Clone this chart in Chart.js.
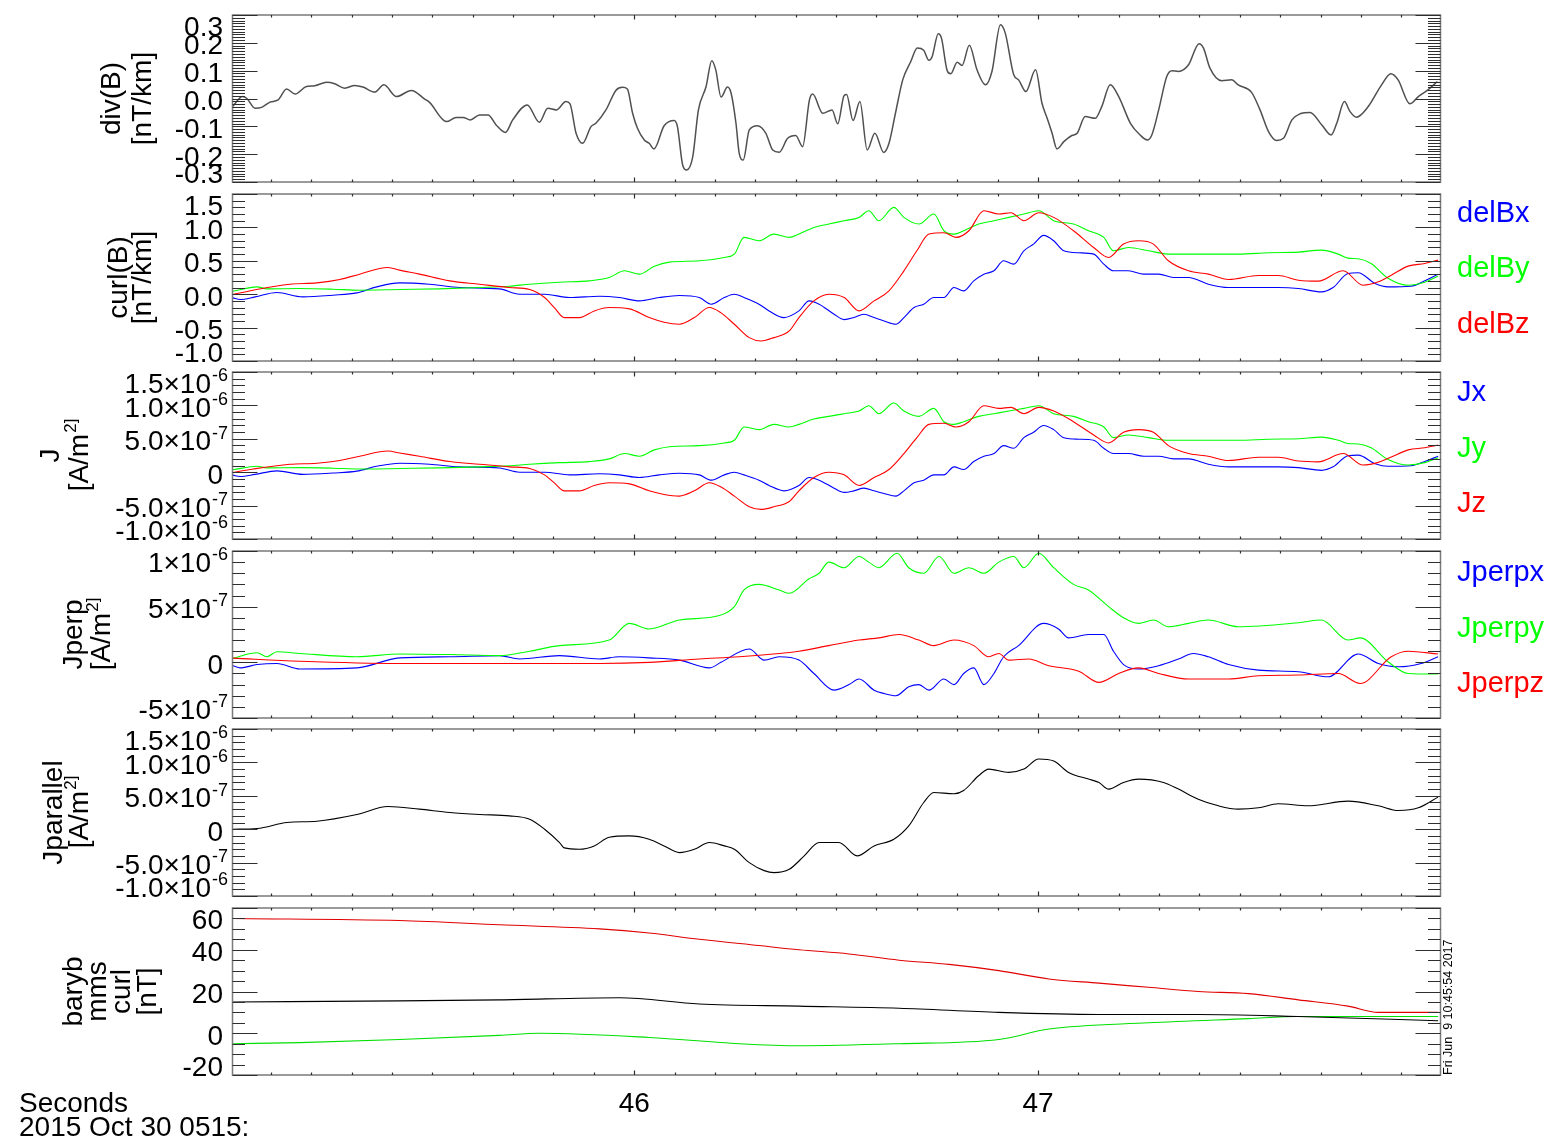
<!DOCTYPE html>
<html>
<head>
<meta charset="utf-8">
<title>MMS curlometer 2015-10-30</title>
<script src="https://cdn.jsdelivr.net/npm/chart.js@4.4.1/dist/chart.umd.min.js"></script>
<style>
  html, body { margin: 0; padding: 0; background: #fff; }
  body { width: 1552px; height: 1144px; position: relative; overflow: hidden; }
  canvas { position: absolute; left: 0; }
</style>
</head>
<body>
<script>
// ---- time axis (seconds after 05:15) ----
const X_MIN = 45.005, X_MAX = 47.997;
const X_MAJOR = [46, 47];
const X_MAJOR_TEXT = ['46', '47'];

// ---- div(B) [nT/km] : [time, value] ----
const divB = [[45.005,-0.029],[45.030,0.007],[45.040,0.001],[45.061,-0.035],[45.077,-0.032],[45.098,-0.013],[45.118,-0.005],[45.139,0.034],[45.160,0.016],[45.188,0.043],[45.209,0.046],[45.238,0.058],[45.258,0.053],[45.283,0.037],[45.308,0.047],[45.328,0.041],[45.357,0.023],[45.380,0.049],[45.411,0.007],[45.448,0.029],[45.481,-0.002],[45.493,-0.014],[45.535,-0.083],[45.559,-0.068],[45.576,-0.068],[45.594,-0.077],[45.617,-0.059],[45.638,-0.059],[45.658,-0.095],[45.681,-0.122],[45.699,-0.077],[45.735,-0.023],[45.765,-0.085],[45.786,-0.035],[45.807,-0.041],[45.831,-0.011],[45.841,-0.019],[45.856,-0.125],[45.872,-0.161],[45.893,-0.101],[45.905,-0.089],[45.930,-0.041],[45.955,0.030],[45.971,0.040],[45.983,0.034],[45.996,-0.053],[46.008,-0.107],[46.025,-0.149],[46.037,-0.161],[46.049,-0.181],[46.074,-0.098],[46.099,-0.079],[46.107,-0.101],[46.120,-0.239],[46.130,-0.257],[46.145,-0.209],[46.159,-0.041],[46.178,0.043],[46.192,0.136],[46.202,0.103],[46.215,0.005],[46.231,0.041],[46.240,0.019],[46.252,-0.089],[46.260,-0.197],[46.270,-0.221],[46.285,-0.113],[46.305,-0.098],[46.326,-0.125],[46.343,-0.185],[46.359,-0.193],[46.380,-0.143],[46.400,-0.133],[46.417,-0.173],[46.434,-0.005],[46.442,0.016],[46.467,-0.053],[46.490,-0.041],[46.504,-0.091],[46.520,0.011],[46.526,0.014],[46.542,-0.079],[46.559,-0.011],[46.577,-0.185],[46.596,-0.125],[46.618,-0.194],[46.631,-0.161],[46.647,-0.053],[46.665,0.067],[46.685,0.133],[46.701,0.181],[46.717,0.173],[46.730,0.137],[46.738,0.151],[46.753,0.233],[46.761,0.217],[46.775,0.101],[46.784,0.089],[46.800,0.130],[46.812,0.119],[46.830,0.191],[46.849,0.103],[46.870,0.049],[46.886,0.097],[46.907,0.265],[46.919,0.235],[46.940,0.085],[46.952,0.067],[46.970,0.025],[46.994,0.103],[47.010,-0.017],[47.022,-0.068],[47.035,-0.125],[47.047,-0.181],[47.064,-0.155],[47.084,-0.133],[47.097,-0.125],[47.117,-0.065],[47.142,-0.071],[47.158,-0.029],[47.179,0.049],[47.200,0.007],[47.229,-0.089],[47.253,-0.131],[47.271,-0.149],[47.282,-0.131],[47.299,-0.041],[47.319,0.079],[47.332,0.100],[47.348,0.097],[47.373,0.121],[47.399,0.197],[47.410,0.181],[47.426,0.109],[47.455,0.064],[47.480,0.067],[47.496,0.049],[47.529,0.022],[47.550,-0.041],[47.571,-0.119],[47.591,-0.151],[47.608,-0.143],[47.629,-0.077],[47.649,-0.055],[47.674,-0.050],[47.703,-0.095],[47.726,-0.131],[47.740,-0.089],[47.759,-0.011],[47.773,-0.047],[47.789,-0.067],[47.818,-0.029],[47.851,0.049],[47.874,0.089],[47.892,0.067],[47.921,-0.019],[47.942,0.007],[47.966,0.031],[47.989,0.061]];

// ---- curl(B) components [nT/km] ----
const delBx = [[45.006,-0.055],[45.024,-0.08],[45.061,-0.04],[45.115,0.025],[45.179,-0.04],[45.254,-0.015],[45.313,0.02],[45.362,0.11],[45.419,0.17],[45.493,0.15],[45.568,0.1],[45.666,0.08],[45.716,0.0],[45.778,0.0],[45.840,-0.05],[45.914,-0.03],[45.963,-0.05],[46.013,-0.1],[46.062,-0.05],[46.112,-0.02],[46.161,-0.05],[46.191,-0.15],[46.223,-0.05],[46.248,0.0],[46.272,-0.05],[46.309,-0.15],[46.334,-0.25],[46.371,-0.35],[46.408,-0.25],[46.433,-0.1],[46.458,-0.15],[46.495,-0.3],[46.520,-0.38],[46.544,-0.35],[46.569,-0.3],[46.594,-0.35],[46.619,-0.4],[46.648,-0.45],[46.668,-0.35],[46.693,-0.2],[46.717,-0.15],[46.742,-0.05],[46.767,-0.05],[46.792,0.1],[46.816,0.05],[46.841,0.2],[46.866,0.3],[46.891,0.35],[46.915,0.5],[46.940,0.45],[46.965,0.65],[46.989,0.75],[47.014,0.88],[47.039,0.8],[47.064,0.65],[47.101,0.62],[47.138,0.6],[47.163,0.45],[47.187,0.35],[47.224,0.35],[47.262,0.3],[47.299,0.3],[47.336,0.25],[47.373,0.25],[47.422,0.15],[47.472,0.1],[47.546,0.1],[47.595,0.1],[47.645,0.085],[47.702,0.035],[47.731,0.1],[47.768,0.31],[47.793,0.32],[47.835,0.16],[47.867,0.11],[47.924,0.12],[47.961,0.21],[47.991,0.3]];
const delBy = [[45.006,0.045],[45.066,0.11],[45.090,0.08],[45.172,0.085],[45.254,0.075],[45.320,0.06],[45.419,0.07],[45.518,0.08],[45.617,0.1],[45.691,0.12],[45.741,0.15],[45.815,0.18],[45.889,0.2],[45.938,0.25],[45.976,0.35],[46.013,0.3],[46.050,0.42],[46.087,0.48],[46.161,0.5],[46.223,0.55],[46.248,0.6],[46.272,0.85],[46.309,0.8],[46.346,0.9],[46.384,0.85],[46.408,0.9],[46.445,1.0],[46.482,1.05],[46.520,1.1],[46.557,1.15],[46.581,1.25],[46.606,1.1],[46.643,1.3],[46.668,1.15],[46.705,1.05],[46.742,1.2],[46.767,0.95],[46.792,0.9],[46.816,0.95],[46.853,1.05],[46.891,1.1],[46.928,1.15],[46.965,1.2],[47.002,1.25],[47.039,1.1],[47.088,1.05],[47.125,0.95],[47.163,0.85],[47.187,0.65],[47.224,0.7],[47.274,0.65],[47.323,0.6],[47.397,0.6],[47.496,0.6],[47.571,0.62],[47.645,0.63],[47.702,0.66],[47.744,0.6],[47.768,0.54],[47.793,0.53],[47.825,0.46],[47.867,0.24],[47.917,0.135],[47.958,0.18],[47.991,0.27]];
const delBz = [[45.006,-0.005],[45.056,0.06],[45.147,0.15],[45.214,0.17],[45.271,0.22],[45.320,0.3],[45.390,0.4],[45.419,0.36],[45.468,0.3],[45.543,0.2],[45.617,0.15],[45.691,0.1],[45.741,0.07],[45.778,-0.05],[45.802,-0.2],[45.827,-0.35],[45.864,-0.35],[45.901,-0.25],[45.938,-0.2],[45.988,-0.22],[46.037,-0.35],[46.074,-0.42],[46.112,-0.45],[46.149,-0.35],[46.186,-0.2],[46.215,-0.28],[46.248,-0.45],[46.285,-0.65],[46.314,-0.7],[46.346,-0.65],[46.384,-0.55],[46.408,-0.35],[46.445,-0.1],[46.482,0.0],[46.520,-0.05],[46.557,-0.25],[46.594,-0.1],[46.631,0.05],[46.668,0.35],[46.700,0.65],[46.730,0.9],[46.767,0.92],[46.797,0.85],[46.829,0.95],[46.866,1.25],[46.903,1.2],[46.933,1.22],[46.965,1.1],[47.002,1.22],[47.039,1.15],[47.088,0.95],[47.138,0.7],[47.175,0.55],[47.212,0.75],[47.249,0.8],[47.286,0.75],[47.323,0.5],[47.373,0.35],[47.422,0.3],[47.472,0.22],[47.546,0.28],[47.595,0.28],[47.645,0.21],[47.694,0.195],[47.756,0.35],[47.805,0.135],[47.843,0.185],[47.875,0.285],[47.917,0.42],[47.958,0.46],[47.991,0.51]];

// ---- J components [1e-7 A/m^2] ----
const J_UNIT = 1e-7;
const jx = [[45.006,-0.44],[45.024,-0.64],[45.061,-0.32],[45.115,0.2],[45.179,-0.32],[45.254,-0.12],[45.313,0.16],[45.362,0.88],[45.419,1.35],[45.493,1.19],[45.568,0.8],[45.666,0.64],[45.716,0],[45.778,0],[45.840,-0.4],[45.914,-0.24],[45.963,-0.4],[46.013,-0.8],[46.062,-0.4],[46.112,-0.16],[46.161,-0.4],[46.191,-1.19],[46.223,-0.4],[46.248,0],[46.272,-0.4],[46.309,-1.19],[46.334,-1.99],[46.371,-2.79],[46.408,-1.99],[46.433,-0.8],[46.458,-1.19],[46.495,-2.39],[46.520,-3.02],[46.544,-2.79],[46.569,-2.39],[46.594,-2.79],[46.619,-3.18],[46.648,-3.58],[46.668,-2.79],[46.693,-1.59],[46.717,-1.19],[46.742,-0.4],[46.767,-0.4],[46.792,0.8],[46.816,0.4],[46.841,1.59],[46.866,2.39],[46.891,2.79],[46.915,3.98],[46.940,3.58],[46.965,5.17],[46.989,5.97],[47.014,7.0],[47.039,6.37],[47.064,5.17],[47.101,4.94],[47.138,4.78],[47.163,3.58],[47.187,2.79],[47.224,2.79],[47.262,2.39],[47.299,2.39],[47.336,1.99],[47.373,1.99],[47.422,1.19],[47.472,0.8],[47.546,0.8],[47.595,0.8],[47.645,0.68],[47.702,0.28],[47.731,0.8],[47.768,2.47],[47.793,2.55],[47.835,1.27],[47.867,0.88],[47.924,0.96],[47.961,1.67],[47.991,2.39]];
const jy = [[45.006,0.36],[45.066,0.88],[45.090,0.64],[45.172,0.68],[45.254,0.6],[45.320,0.48],[45.419,0.56],[45.518,0.64],[45.617,0.8],[45.691,0.96],[45.741,1.19],[45.815,1.43],[45.889,1.59],[45.938,1.99],[45.976,2.79],[46.013,2.39],[46.050,3.34],[46.087,3.82],[46.161,3.98],[46.223,4.38],[46.248,4.78],[46.272,6.77],[46.309,6.37],[46.346,7.16],[46.384,6.77],[46.408,7.16],[46.445,7.96],[46.482,8.36],[46.520,8.76],[46.557,9.15],[46.581,9.95],[46.606,8.76],[46.643,10.35],[46.668,9.15],[46.705,8.36],[46.742,9.55],[46.767,7.56],[46.792,7.16],[46.816,7.56],[46.853,8.36],[46.891,8.76],[46.928,9.15],[46.965,9.55],[47.002,9.95],[47.039,8.76],[47.088,8.36],[47.125,7.56],[47.163,6.77],[47.187,5.17],[47.224,5.57],[47.274,5.17],[47.323,4.78],[47.397,4.78],[47.496,4.78],[47.571,4.94],[47.645,5.01],[47.702,5.25],[47.744,4.78],[47.768,4.3],[47.793,4.22],[47.825,3.66],[47.867,1.91],[47.917,1.07],[47.958,1.43],[47.991,2.15]];
const jz = [[45.006,-0.04],[45.056,0.48],[45.147,1.19],[45.214,1.35],[45.271,1.75],[45.320,2.39],[45.390,3.18],[45.419,2.87],[45.468,2.39],[45.543,1.59],[45.617,1.19],[45.691,0.8],[45.741,0.56],[45.778,-0.4],[45.802,-1.59],[45.827,-2.79],[45.864,-2.79],[45.901,-1.99],[45.938,-1.59],[45.988,-1.75],[46.037,-2.79],[46.074,-3.34],[46.112,-3.58],[46.149,-2.79],[46.186,-1.59],[46.215,-2.23],[46.248,-3.58],[46.285,-5.17],[46.314,-5.57],[46.346,-5.17],[46.384,-4.38],[46.408,-2.79],[46.445,-0.8],[46.482,0],[46.520,-0.4],[46.557,-1.99],[46.594,-0.8],[46.631,0.4],[46.668,2.79],[46.700,5.17],[46.730,7.16],[46.767,7.32],[46.797,6.77],[46.829,7.56],[46.866,9.95],[46.903,9.55],[46.933,9.7],[46.965,8.76],[47.002,9.7],[47.039,9.15],[47.088,7.56],[47.138,5.57],[47.175,4.38],[47.212,5.97],[47.249,6.37],[47.286,5.97],[47.323,3.98],[47.373,2.79],[47.422,2.39],[47.472,1.75],[47.546,2.23],[47.595,2.23],[47.645,1.67],[47.694,1.55],[47.756,2.79],[47.805,1.07],[47.843,1.47],[47.875,2.27],[47.917,3.34],[47.958,3.66],[47.991,4.06]];

// ---- Jperp components [1e-7 A/m^2] ----
const jperpx = [[45.006,-0.3],[45.024,-0.5],[45.066,-0.2],[45.115,-0.1],[45.172,-0.6],[45.313,-0.5],[45.419,0.4],[45.543,0.5],[45.666,0.6],[45.716,0.3],[45.815,0.6],[45.914,0.3],[45.963,0.5],[46.037,0.4],[46.112,0.2],[46.186,-0.5],[46.215,0.0],[46.285,1.2],[46.322,0.2],[46.359,0.5],[46.408,0.2],[46.445,-1.0],[46.495,-2.5],[46.532,-2.0],[46.557,-1.5],[46.594,-2.5],[46.619,-2.8],[46.648,-3.0],[46.680,-2.2],[46.705,-2.0],[46.730,-2.5],[46.767,-1.5],[46.792,-2.0],[46.816,-1.0],[46.841,-0.5],[46.866,-2.0],[46.891,-1.0],[46.915,0.5],[46.952,1.5],[47.014,3.5],[47.051,3.0],[47.076,2.2],[47.125,2.5],[47.163,2.5],[47.187,1.0],[47.212,-0.2],[47.249,-0.6],[47.299,-0.3],[47.348,0.3],[47.385,0.8],[47.422,0.5],[47.472,-0.2],[47.546,-0.7],[47.645,-0.84],[47.719,-1.3],[47.793,0.75],[47.843,-0.1],[47.893,-0.4],[47.949,-0.1],[47.991,0.5]];
const jperpy = [[45.006,0.36],[45.066,0.86],[45.090,0.5],[45.115,0.95],[45.172,0.8],[45.313,0.5],[45.419,0.75],[45.543,0.7],[45.666,0.6],[45.741,1.0],[45.815,1.5],[45.938,2.0],[45.988,3.5],[46.037,3.0],[46.112,3.8],[46.211,4.2],[46.248,5.0],[46.272,6.5],[46.309,7.0],[46.359,6.5],[46.384,6.2],[46.433,7.5],[46.458,8.0],[46.482,9.0],[46.520,8.5],[46.557,9.5],[46.581,9.0],[46.606,8.5],[46.651,9.8],[46.680,8.5],[46.717,8.0],[46.755,9.5],[46.792,8.0],[46.829,8.5],[46.866,8.0],[46.903,9.0],[46.940,9.5],[46.965,8.5],[47.002,9.8],[47.039,8.5],[47.088,7.0],[47.125,6.5],[47.175,5.0],[47.212,4.0],[47.249,3.5],[47.286,3.8],[47.323,3.2],[47.373,3.5],[47.422,3.8],[47.496,3.2],[47.645,3.56],[47.702,3.8],[47.768,2.0],[47.798,2.2],[47.867,0.05],[47.917,-1.0],[47.991,-1.05]];
const jperpz = [[45.006,0.38],[45.172,0.1],[45.419,-0.1],[45.666,-0.1],[45.914,-0.1],[46.037,0.0],[46.161,0.3],[46.260,0.5],[46.359,0.8],[46.408,1.0],[46.482,1.5],[46.557,2.0],[46.606,2.2],[46.656,2.5],[46.705,2.0],[46.742,1.5],[46.792,2.0],[46.841,1.5],[46.878,0.5],[46.903,0.8],[46.928,0.2],[46.977,0.3],[47.027,-0.3],[47.101,-0.8],[47.151,-1.8],[47.200,-1.0],[47.249,-0.5],[47.299,-1.0],[47.373,-1.5],[47.472,-1.5],[47.546,-1.2],[47.645,-1.14],[47.744,-1.0],[47.798,-1.9],[47.875,0.5],[47.917,1.0],[47.991,0.75]];

// ---- Jparallel [1e-7 A/m^2] ----
const jpar = [[45.006,0],[45.066,0.1],[45.140,1.0],[45.214,1.2],[45.313,2.2],[45.390,3.4],[45.468,3.0],[45.543,2.5],[45.617,2.2],[45.691,2.0],[45.741,1.5],[45.778,0],[45.815,-2.0],[45.827,-2.8],[45.864,-3.0],[45.901,-2.5],[45.938,-1.2],[45.988,-1.0],[46.037,-1.5],[46.074,-2.5],[46.112,-3.5],[46.149,-3.0],[46.186,-2.0],[46.223,-2.5],[46.248,-3.0],[46.285,-5.0],[46.322,-6.2],[46.346,-6.5],[46.384,-6.0],[46.421,-4.0],[46.458,-2.0],[46.507,-2.0],[46.552,-4.0],[46.594,-2.5],[46.643,-1.5],[46.680,0.5],[46.717,4.0],[46.742,5.5],[46.792,5.3],[46.816,5.8],[46.853,8.0],[46.878,9.0],[46.928,8.5],[46.965,9.0],[47.002,10.5],[47.039,10.2],[47.076,8.5],[47.125,7.5],[47.151,7.0],[47.175,6.0],[47.212,7.0],[47.249,7.5],[47.311,7.0],[47.348,6.0],[47.397,4.5],[47.447,3.5],[47.496,3.0],[47.546,3.2],[47.595,3.8],[47.669,3.5],[47.768,4.2],[47.843,3.5],[47.893,2.8],[47.942,3.2],[47.991,4.8]];

// ---- barycentre field [nT] ----
const barybRed = [[45.006,55],[45.419,54],[45.666,52],[45.914,50],[46.037,48],[46.161,45],[46.309,42],[46.408,40],[46.532,38],[46.656,35],[46.780,33],[46.903,30],[47.027,26],[47.151,24],[47.274,22],[47.397,20],[47.521,19],[47.645,16],[47.768,13],[47.843,10],[47.991,10]];
const barybBlack = [[45.006,15],[45.419,15.5],[45.666,16],[45.963,17],[46.161,14],[46.408,13],[46.656,12],[46.903,10],[47.151,9],[47.397,9],[47.645,8],[47.991,6]];
const barybGreen = [[45.006,-5],[45.172,-4.5],[45.419,-3],[45.666,-1],[45.765,0],[46.037,-2],[46.260,-5],[46.408,-6],[46.656,-5],[46.903,-3],[47.027,2],[47.274,5],[47.521,7],[47.645,8],[47.991,8]];

// ---- y tick values and labels ----
const divTicks = [0.3, 0.2, 0.1, 0.0, -0.1, -0.2, -0.3];
const divTickText = ['0.3', '0.2', '0.1', '0.0', '-0.1', '-0.2', '-0.3'];
const curlTicks = [1.5, 1.0, 0.5, 0.0, -0.5, -1.0];
const curlTickText = ['1.5', '1.0', '0.5', '0.0', '-0.5', '-1.0'];
const jTicks = [1.5e-6, 1.0e-6, 5e-7, 0, -5e-7, -1.0e-6];
const jTickText = ['1.5×10^-6', '1.0×10^-6', '5.0×10^-7', '0', '-5.0×10^-7', '-1.0×10^-6'];
const jperpTicks = [1e-6, 5e-7, 0, -5e-7];
const jperpTickText = ['1×10^-6', '5×10^-7', '0', '-5×10^-7'];
const barybTicks = [60, 40, 20, 0, -20];
const barybTickText = ['60', '40', '20', '0', '-20'];

const FONT = "'Liberation Sans', Arial, Helvetica, sans-serif";
const PAGE_W = 1552, PAGE_H = 1144;
const PLOT_LEFT = 232.5, PLOT_RIGHT = 1440.5;
const BLUE = '#0000ff', GREEN = '#00ff00', RED = '#ff0000';

const panels = [
  { top: 15, bottom: 182, yMin: -0.3, yMax: 0.3, minor: 0.01,
    ticks: divTicks, tickText: divTickText,
    title: ['div(B)', '[nT/km]'], titleX: [120, 151],
    series: [{ data: divB, color: '#505050', width: 1.5 }], legend: [] },
  { top: 194, bottom: 361, yMin: -1.0, yMax: 1.5, minor: 0.1,
    ticks: curlTicks, tickText: curlTickText,
    title: ['curl(B)', '[nT/km]'], titleX: [127, 151],
    series: [{ data: delBz, color: RED }, { data: delBy, color: GREEN }, { data: delBx, color: BLUE }],
    legend: [{ text: 'delBx', color: BLUE, y: 222 }, { text: 'delBy', color: GREEN, y: 277 }, { text: 'delBz', color: RED, y: 333 }] },
  { top: 372, bottom: 539, yMin: -1.0e-6, yMax: 1.5e-6, minor: 1e-7, unit: J_UNIT,
    ticks: jTicks, tickText: jTickText,
    title: ['J', '[A/m^2]'], titleX: [59, 88],
    series: [{ data: jz, color: RED }, { data: jy, color: GREEN }, { data: jx, color: BLUE }],
    legend: [{ text: 'Jx', color: BLUE, y: 401 }, { text: 'Jy', color: GREEN, y: 457 }, { text: 'Jz', color: RED, y: 512 }] },
  { top: 551, bottom: 718, yMin: -5e-7, yMax: 1e-6, minor: 1e-7, unit: J_UNIT,
    ticks: jperpTicks, tickText: jperpTickText,
    title: ['Jperp', '[A/m^2]'], titleX: [82, 110],
    series: [{ data: jperpz, color: RED }, { data: jperpy, color: GREEN }, { data: jperpx, color: BLUE }],
    legend: [{ text: 'Jperpx', color: BLUE, y: 581 }, { text: 'Jperpy', color: GREEN, y: 637 }, { text: 'Jperpz', color: RED, y: 692 }] },
  { top: 729, bottom: 896, yMin: -1.0e-6, yMax: 1.5e-6, minor: 1e-7, unit: J_UNIT,
    ticks: jTicks, tickText: jTickText,
    title: ['Jparallel', '[A/m^2]'], titleX: [62, 88],
    series: [{ data: jpar, color: '#000000' }], legend: [] },
  { top: 908, bottom: 1075, yMin: -20, yMax: 60, minor: 5,
    ticks: barybTicks, tickText: barybTickText,
    title: ['baryb', 'mms', 'curl', '[nT]'], titleX: [82, 106, 130, 156],
    series: [{ data: barybRed, color: '#e00000' }, { data: barybBlack, color: '#000000' }, { data: barybGreen, color: '#00e000' }],
    legend: [], last: true }
];

// text with an optional "^superscript" part
function drawSupText(ctx, text, xr, baseline, size, supSize, align) {
  const parts = text.split('^');
  ctx.textBaseline = 'alphabetic';
  ctx.font = size + 'px ' + FONT;
  const w0 = ctx.measureText(parts[0]).width;
  ctx.font = supSize + 'px ' + FONT;
  const w1 = parts.length > 1 ? ctx.measureText(parts[1]).width : 0;
  const x0 = align === 'center' ? xr - (w0 + w1) / 2 : xr - w0 - w1;
  ctx.textAlign = 'left';
  ctx.font = size + 'px ' + FONT;
  ctx.fillText(parts[0], x0, baseline);
  if (parts.length > 1) {
    ctx.font = supSize + 'px ' + FONT;
    ctx.fillText(parts[1], x0 + w0 + 1, baseline - size * 0.42);
  }
}

function framePlugin(p) {
  return {
    id: 'idlFrame',
    afterDatasetsDraw(chart) {
      const ctx = chart.ctx, a = chart.chartArea;
      const xs = chart.scales.x, ys = chart.scales.y;
      ctx.save();
      // plot box
      ctx.strokeStyle = '#7a7a7a';
      ctx.lineWidth = 1.5;
      ctx.strokeRect(a.left, a.top, a.right - a.left, a.bottom - a.top);

      // inward tick marks on all four sides
      ctx.strokeStyle = '#2e2e2e';
      ctx.lineWidth = 1.2;
      ctx.beginPath();
      const nMinor = Math.round((p.yMax - p.yMin) / p.minor);
      for (let i = 0; i <= nMinor; i++) {
        const py = Math.round(ys.getPixelForValue(p.yMin + i * p.minor)) + 0.5;
        ctx.moveTo(a.left, py); ctx.lineTo(a.left + 12.5, py);
        ctx.moveTo(a.right, py); ctx.lineTo(a.right - 12.5, py);
      }
      p.ticks.forEach(v => {
        const py = Math.round(ys.getPixelForValue(v)) + 0.5;
        ctx.moveTo(a.left, py); ctx.lineTo(a.left + 25, py);
        ctx.moveTo(a.right, py); ctx.lineTo(a.right - 25, py);
      });
      for (let i = 451; i <= 479; i++) {
        const major = (i % 10 === 0);
        const px = Math.round(xs.getPixelForValue(i / 10)) + 0.5;
        const len = major ? 4.5 : 2.5;
        ctx.moveTo(px, a.top); ctx.lineTo(px, a.top + len);
        ctx.moveTo(px, a.bottom); ctx.lineTo(px, a.bottom - len);
      }
      ctx.stroke();

      // y tick labels
      ctx.fillStyle = '#000';
      p.ticks.forEach((v, i) => {
        const txt = p.tickText[i];
        let yc = ys.getPixelForValue(v) + 1.5;
        yc = Math.max(a.top + 11, Math.min(a.bottom - 9.5, yc));
        const hasSup = txt.indexOf('^') >= 0;
        drawSupText(ctx, txt, hasSup ? 227 : 223, yc + 10, 28, 18, 'right');
      });

      // rotated axis title lines
      const yMid = (a.top + a.bottom) / 2;
      p.title.forEach((line, i) => {
        ctx.save();
        ctx.translate(p.titleX[i], yMid);
        ctx.rotate(-Math.PI / 2);
        drawSupText(ctx, line, 0, 0, 28, 17, 'center');
        ctx.restore();
      });

      // series labels on the right
      ctx.textAlign = 'left';
      ctx.textBaseline = 'alphabetic';
      ctx.font = '29px ' + FONT;
      p.legend.forEach(l => {
        ctx.fillStyle = l.color;
        ctx.fillText(l.text, 1457, l.y);
      });

      if (p.last) {
        ctx.fillStyle = '#000';
        ctx.font = '28px ' + FONT;
        ctx.textAlign = 'center';
        const base = a.bottom + 37;
        X_MAJOR.forEach((t, i) => ctx.fillText(X_MAJOR_TEXT[i], xs.getPixelForValue(t), base));
        ctx.textAlign = 'left';
        ctx.fillText('Seconds', 19, base);
        ctx.fillText('2015 Oct 30 0515:', 19, base + 24);
        // creation stamp along the right edge
        ctx.save();
        ctx.translate(a.right + 11, a.bottom);
        ctx.rotate(-Math.PI / 2);
        ctx.font = '12.5px ' + FONT;
        ctx.fillText('Fri Jun  9 10:45:54 2017', 0, 0);
        ctx.restore();
      }
      ctx.restore();
    }
  };
}

panels.forEach(p => {
  const padTop = 14;
  const padBottom = p.last ? PAGE_H - p.bottom : 14;
  const canvas = document.createElement('canvas');
  canvas.width = PAGE_W;
  canvas.height = Math.round(p.bottom - p.top + padTop + padBottom);
  canvas.style.top = (p.top - padTop) + 'px';
  canvas.style.width = PAGE_W + 'px';
  canvas.style.height = canvas.height + 'px';
  document.body.appendChild(canvas);
  // label positions are page coordinates; shift them into this canvas
  p.legend = p.legend.map(l => ({ text: l.text, color: l.color, y: l.y - (p.top - padTop) }));
  const unit = p.unit || 1;
  new Chart(canvas, {
    type: 'line',
    data: {
      datasets: p.series.map((s, i) => ({
        data: s.data.map(d => ({ x: d[0], y: d[1] * unit })),
        borderColor: s.color,
        borderWidth: s.width || 1.1,
        pointRadius: 0,
        fill: false,
        cubicInterpolationMode: 'monotone',
        order: i
      }))
    },
    options: {
      responsive: false,
      animation: false,
      devicePixelRatio: 1,
      events: [],
      layout: { padding: { left: PLOT_LEFT, right: PAGE_W - PLOT_RIGHT, top: padTop, bottom: padBottom } },
      scales: {
        x: { type: 'linear', min: X_MIN, max: X_MAX, display: false },
        y: { type: 'linear', min: p.yMin, max: p.yMax, display: false }
      },
      plugins: { legend: { display: false }, tooltip: { enabled: false } }
    },
    plugins: [framePlugin(p)]
  });
});
</script>
</body>
</html>
